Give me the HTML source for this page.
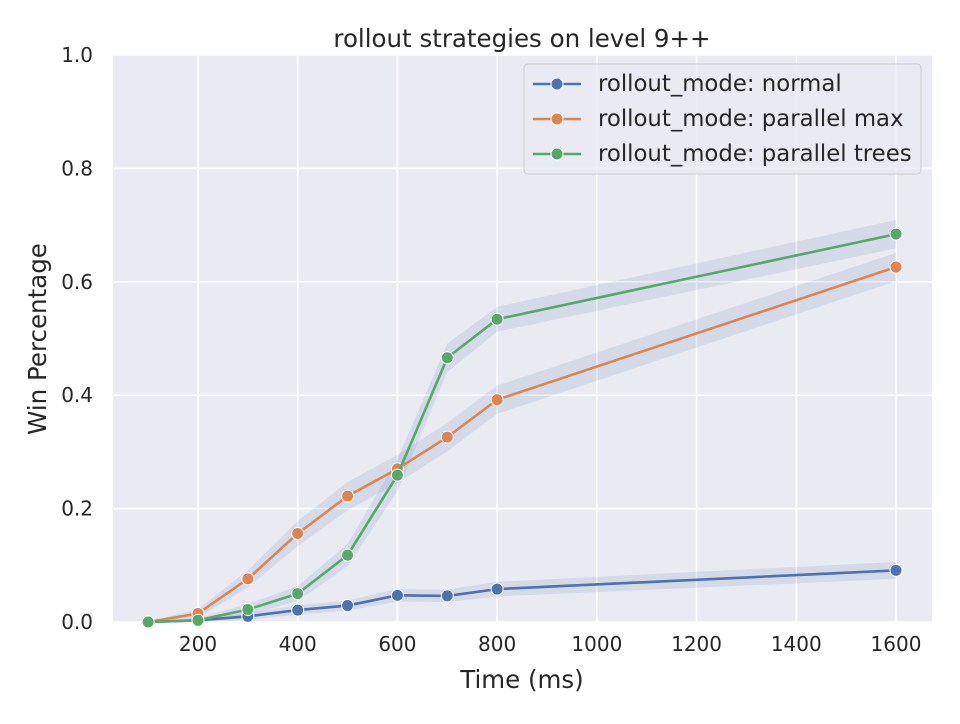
<!DOCTYPE html>
<html><head><meta charset="utf-8"><style>
body{margin:0;background:#fff;}
svg text{font-family:"DejaVu Sans","Liberation Sans",sans-serif;fill:#262626;}
</style></head><body>
<svg id="chart" width="960" height="719" xmlns="http://www.w3.org/2000/svg">
<rect x="113" y="55" width="819" height="567" fill="#eaeaf2"/>
<g id="grid"></g>
<g id="bands"></g>
<g id="lines"></g>
<g id="ticks"></g>
<text x="522" y="47" font-size="24.5" text-anchor="middle">rollout strategies on level 9++</text>
<text x="522" y="688" font-size="24.5" text-anchor="middle">Time (ms)</text>
<text x="46" y="339" font-size="24.5" text-anchor="middle" transform="rotate(-90 46 339)">Win Percentage</text>
<g id="legend"></g>
</svg>
<script>
const times=[100,200,300,400,500,600,700,800,1600];
const seriesNames=["rollout_mode: normal","rollout_mode: parallel max","rollout_mode: parallel trees"];
const normalVals=[0,0.003,0.010,0.021,0.029,0.047,0.046,0.058,0.091];
const maxVals=[0,0.015,0.076,0.156,0.222,0.270,0.326,0.392,0.626];
const treesVals=[0,0.003,0.022,0.050,0.118,0.259,0.466,0.534,0.684];
const normalErr=[0,0.004,0.006,0.008,0.009,0.011,0.011,0.013,0.015];
const maxErr=[0,0.008,0.015,0.022,0.025,0.025,0.025,0.025,0.025];
const treesErr=[0,0.004,0.010,0.013,0.020,0.028,0.025,0.022,0.025];
const xTicks=[200,400,600,800,1000,1200,1400,1600];
const yTicks=[0,0.2,0.4,0.6,0.8,1.0];
const colors=["#4c72b0","#dd8452","#55a868"];
const NS="http://www.w3.org/2000/svg";
const xs=v=>198+(v-200)*(698/1400);
const ys=v=>622-v*567;
function mk(tag,attrs,parent){const e=document.createElementNS(NS,tag);for(const k in attrs)e.setAttribute(k,attrs[k]);parent.appendChild(e);return e;}
const grid=document.getElementById('grid'),ticks=document.getElementById('ticks');
xTicks.forEach(t=>{
 const l=mk('line',{x1:xs(t),x2:xs(t),y1:55,y2:622,stroke:'#fff','stroke-width':1.6},grid);
 
 
 const tx=mk('text',{x:xs(t),y:651,'font-size':20,'text-anchor':'middle'},ticks);tx.textContent=t;
 
 
});
yTicks.forEach(t=>{
 const l=mk('line',{x1:113,x2:932,y1:ys(t),y2:ys(t),stroke:'#fff','stroke-width':1.6},grid);
 
 
 const tx=mk('text',{x:93,y:ys(t)+7,'font-size':20,'text-anchor':'end'},ticks);tx.textContent=t.toFixed(1);
 
 
});
const all=[normalVals,maxVals,treesVals],errs=[normalErr,maxErr,treesErr];
const bands=document.getElementById('bands'),lines=document.getElementById('lines');
all.forEach((vals,si)=>{
 let up=times.map((t,i)=>xs(t)+','+ys(vals[i]+errs[si][i]));
 let lo=times.map((t,i)=>xs(t)+','+ys(Math.max(0,vals[i]-errs[si][i]))).reverse();
 const b=mk('polygon',{points:up.concat(lo).join(' '),fill:'#4c72b0','fill-opacity':0.13},bands);
 
 
});
all.forEach((vals,si)=>{
 const p=mk('polyline',{points:times.map((t,i)=>xs(t)+','+ys(vals[i])).join(' '),fill:'none',stroke:colors[si],'stroke-width':2.6},lines);
 
 
 times.forEach((t,i)=>{
  const c=mk('circle',{cx:xs(t),cy:ys(vals[i]),r:6,fill:colors[si],stroke:'#fff','stroke-width':1},lines);
  
  
 });
});
const lg=document.getElementById('legend');
mk('rect',{x:524,y:64,width:397,height:110,rx:4,fill:'#eaeaf2','fill-opacity':0.8,stroke:'#ccc'},lg);
seriesNames.forEach((n,i)=>{
 const y=84+i*35;
 mk('line',{x1:533,x2:581,y1:y,y2:y,stroke:colors[i],'stroke-width':2.6},lg);
 mk('circle',{cx:557,cy:y,r:6,fill:colors[i],stroke:'#fff','stroke-width':1},lg);
 const t=mk('text',{x:598,y:y+7,'font-size':22.8},lg);t.textContent=n;
 
 
});
</script>
</body></html>
